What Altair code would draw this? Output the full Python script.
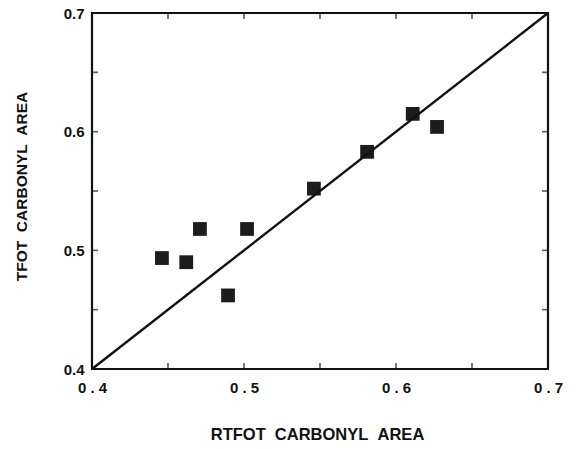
import altair as alt
import pandas as pd

# Data
rtfot = [0.446, 0.462, 0.471, 0.4895, 0.502, 0.546, 0.581, 0.611, 0.627]
tfot = [0.4935, 0.490, 0.518, 0.462, 0.518, 0.552, 0.583, 0.615, 0.604]
diag = [0.4, 0.7]
tick_vals = [0.45, 0.5, 0.55, 0.6, 0.65]
label_vals = [0.4, 0.5, 0.6, 0.7]

pts = pd.DataFrame({"x": rtfot, "y": tfot})
line_df = pd.DataFrame({"x": diag, "y": diag})
tick_df = pd.DataFrame({"v": tick_vals})

FONT = "Liberation Sans"
xs = alt.Scale(domain=[0.4, 0.7], nice=False, zero=False)
ys = alt.Scale(domain=[0.4, 0.7], nice=False, zero=False)

SP = "\u00a0\u00a0"
XT = f"RTFOT{SP}CARBONYL{SP}AREA"
YT = f"TFOT{SP}CARBONYL{SP}AREA"

xaxis = alt.Axis(
    values=label_vals, ticks=False, domain=False, grid=False,
    labelExpr="replace(format(datum.value, '.1f'), '.', ' . ')",
    labelFont=FONT, labelFontWeight="bold", labelFontSize=15, labelColor="#111",
    labelPadding=11, labelFlush=False, labelOverlap=False,
    title=XT, titleFont=FONT, titleFontWeight="bold",
    titleFontSize=16.5, titleColor="#111", titleX=225, titleY=65,
    titleBaseline="middle", titleAlign="center",
)
yaxis = alt.Axis(
    values=label_vals, ticks=False, domain=False, grid=False, format=".1f",
    labelFont=FONT, labelFontWeight="bold", labelFontSize=15, labelColor="#111",
    labelPadding=8, labelFlush=False, labelOverlap=False,
    title=YT, titleFont=FONT, titleFontWeight="bold",
    titleFontSize=15.5, titleColor="#111", titleX=-71, titleY=173,
    titleBaseline="middle", titleAlign="center", titleAngle=270,
)

points = alt.Chart(pts).mark_square(size=190, color="#1c1c1c", opacity=1, filled=True).encode(
    x=alt.X("x:Q", scale=xs, axis=xaxis, title=XT),
    y=alt.Y("y:Q", scale=ys, axis=yaxis, title=YT),
)

line = alt.Chart(line_df).mark_line(color="#111", strokeWidth=2.4).encode(
    x=alt.X("x:Q", scale=xs, axis=xaxis, title=XT),
    y=alt.Y("y:Q", scale=ys, axis=yaxis, title=YT),
)

TL = 6
tick_style = dict(color="#111", thickness=1.6, size=TL)

bottom = alt.Chart(tick_df).mark_tick(orient="vertical", yOffset=-TL / 2, **tick_style).encode(
    x=alt.X("v:Q", scale=xs, axis=xaxis, title=XT),
    y=alt.Y(datum=0.4, scale=ys, axis=yaxis, title=YT))
top = alt.Chart(tick_df).mark_tick(orient="vertical", yOffset=TL / 2, **tick_style).encode(
    x=alt.X("v:Q", scale=xs, axis=xaxis, title=XT),
    y=alt.Y(datum=0.7, scale=ys, axis=yaxis, title=YT))
left = alt.Chart(tick_df).mark_tick(orient="horizontal", xOffset=TL / 2, **tick_style).encode(
    y=alt.Y("v:Q", scale=ys, axis=yaxis, title=YT),
    x=alt.X(datum=0.4, scale=xs, axis=xaxis, title=XT))
right = alt.Chart(tick_df).mark_tick(orient="horizontal", xOffset=-TL / 2, **tick_style).encode(
    y=alt.Y("v:Q", scale=ys, axis=yaxis, title=YT),
    x=alt.X(datum=0.7, scale=xs, axis=xaxis, title=XT))

chart = alt.layer(points, line, bottom, top, left, right).properties(
    width=456, height=356,
    autosize=alt.AutoSizeParams(type="none"),
    padding={"left": 92, "top": 13, "right": 29, "bottom": 80},
    background="white",
).configure_view(stroke="#111", strokeWidth=2.2)

chart.save("out.html", embed_options={"renderer": "svg", "actions": False})
